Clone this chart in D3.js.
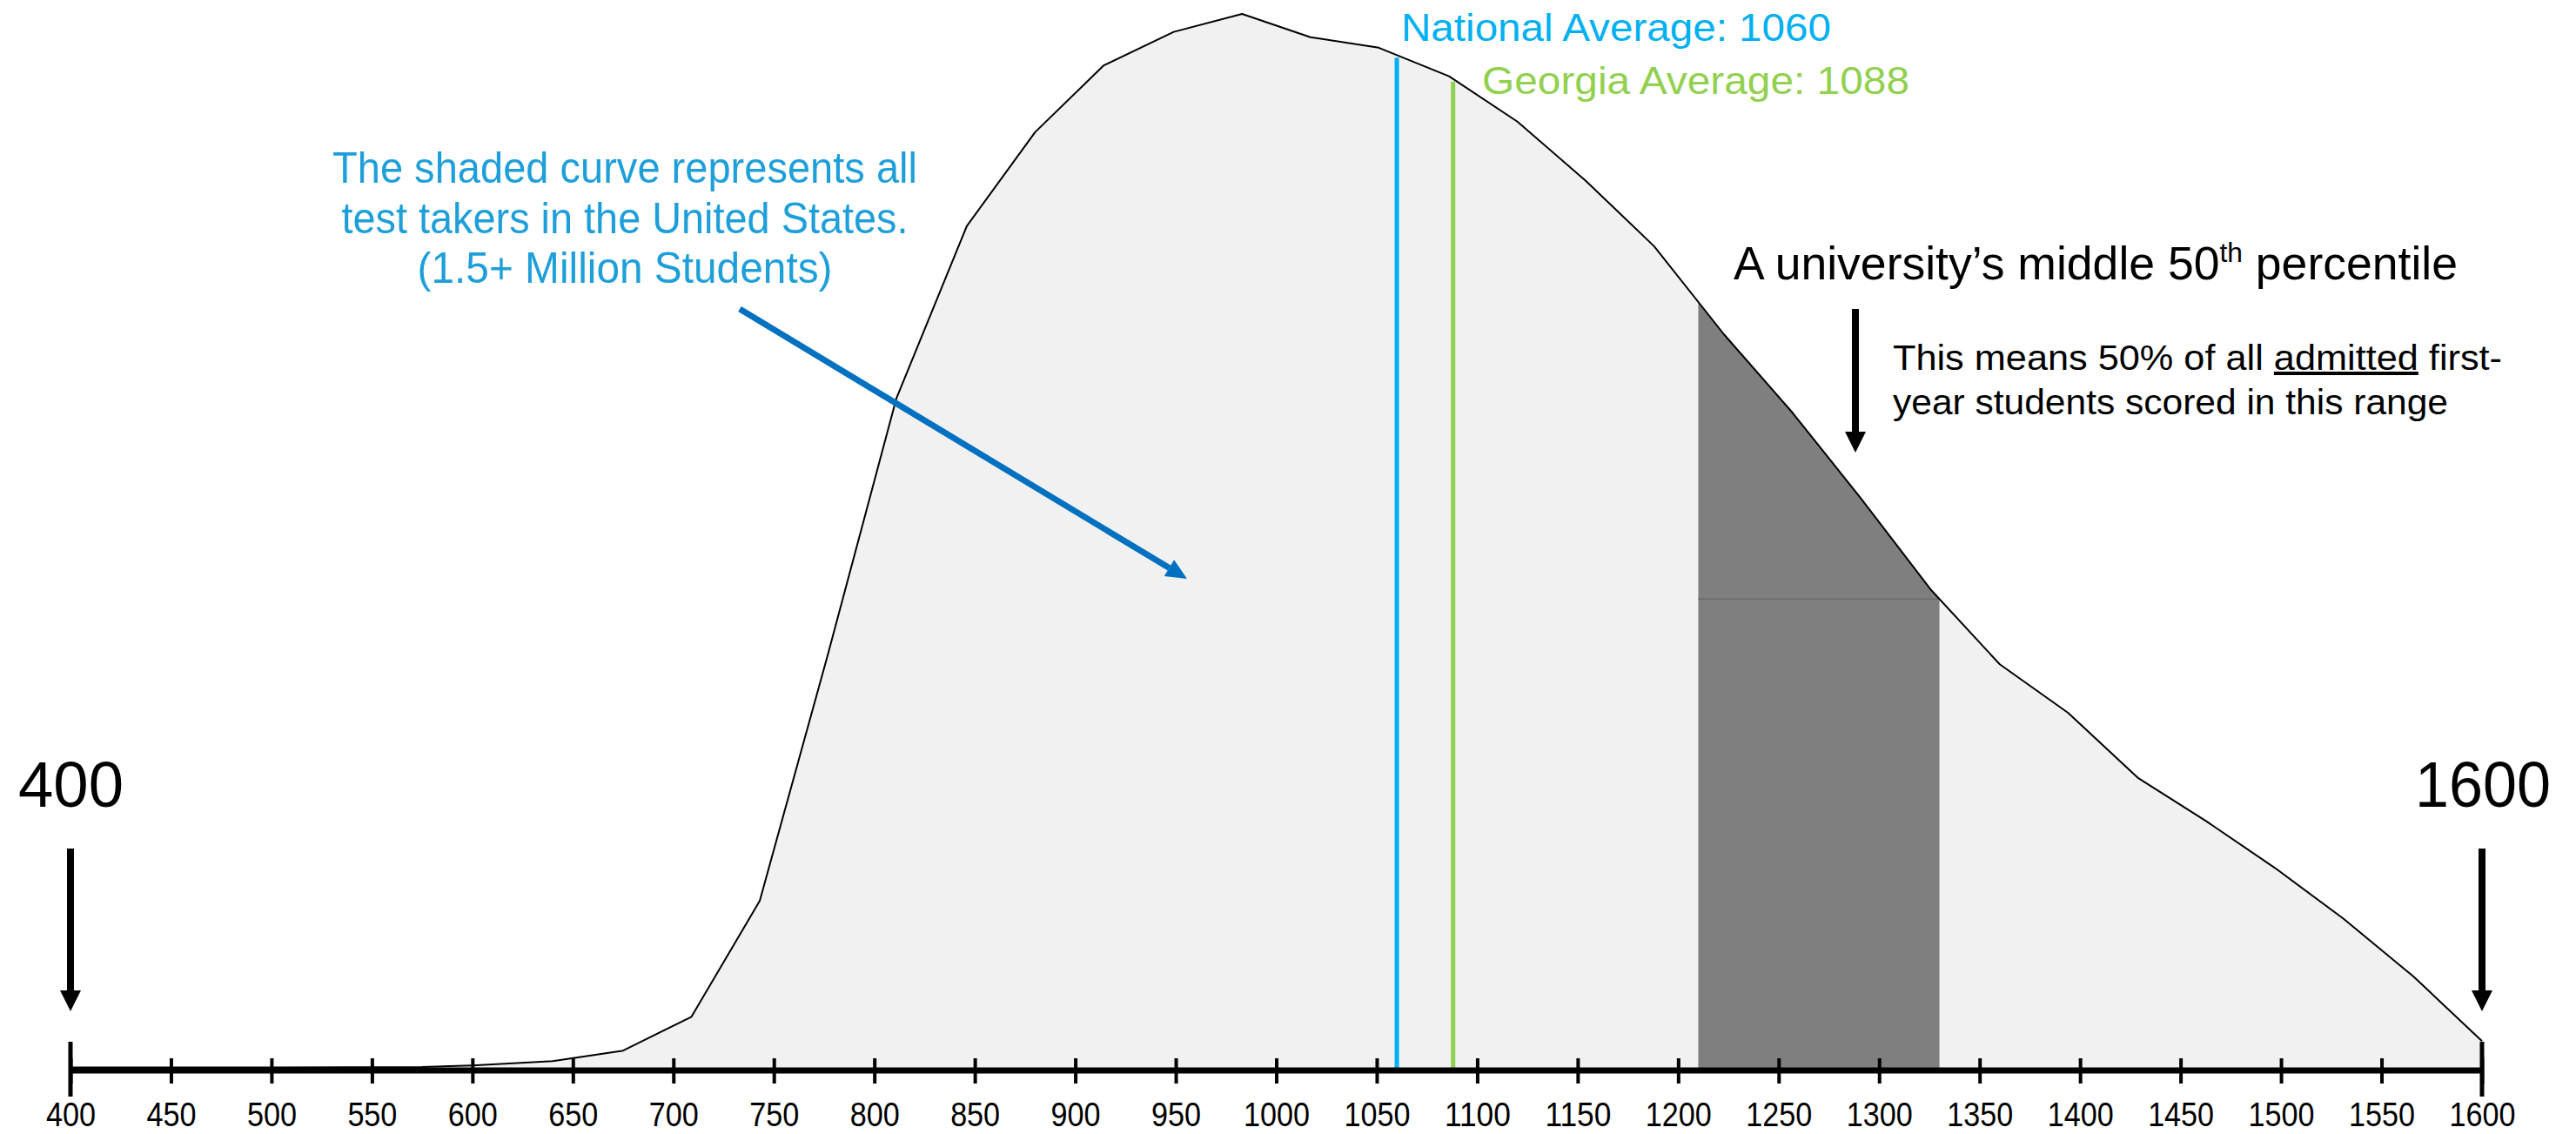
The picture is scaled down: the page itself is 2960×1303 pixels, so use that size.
<!DOCTYPE html>
<html><head><meta charset="utf-8">
<script src="https://cdn.jsdelivr.net/npm/d3@7"></script>
<style>html,body{margin:0;padding:0;background:#fff;} svg{display:block}</style>
</head><body>
<svg id="chart" width="2960" height="1303"></svg>
<script>
// ---- data ----
const scores = [400, 500, 575, 600, 640, 675, 709, 743, 777, 811, 846, 880, 914, 949, 983, 1017, 1051, 1086, 1120, 1154, 1188, 1223, 1257, 1291, 1326, 1360, 1394, 1429, 1463, 1497, 1531, 1566, 1600];
const frequency = [0.2, 0.2, 0.25, 0.4, 0.8, 1.8, 5.0, 16, 39.4, 63.6, 79.9, 88.8, 95.1, 98.3, 100, 97.8, 96.8, 94.1, 89.8, 84.2, 78.0, 69.6, 62.2, 54.1, 45.4, 38.4, 33.8, 27.6, 23.5, 19.1, 14.3, 8.8, 2.7];
const tickValues = [400, 450, 500, 550, 600, 650, 700, 750, 800, 850, 900, 950, 1000, 1050, 1100, 1150, 1200, 1250, 1300, 1350, 1400, 1450, 1500, 1550, 1600];
const averageNames = ["National Average", "Georgia Average"];
const averageValues = [1060, 1088];
const middle50 = [1210, 1330];
const endValues = [400, 1600];
const noteLines = ["The shaded curve represents all", "test takers in the United States.", "(1.5+ Million Students)"];

const data = scores.map((s, i) => ({s, v: frequency[i]}));
const svg = d3.select("#chart");
const x = d3.scaleLinear().domain([400, 1600]).range([81, 2852]);
const y = d3.scaleLinear().domain([0, 100]).range([1229, 16]);
const narrow = "'Liberation Sans Narrow','Arial Narrow','Liberation Sans',Arial,sans-serif";
const regular = "'Liberation Sans',Arial,Helvetica,sans-serif";

function valueAt(s) {
  const i = d3.bisector(d => d.s).right(data, s);
  if (i <= 0) return data[0].v;
  if (i >= data.length) return data[data.length - 1].v;
  const a = data[i - 1], b = data[i];
  return a.v + (b.v - a.v) * (s - a.s) / (b.s - a.s);
}

const area = d3.area().x(d => x(d.s)).y0(y(0)).y1(d => y(d.v));
const line = d3.line().x(d => x(d.s)).y(d => y(d.v));

// light distribution
svg.append("path").datum(data).attr("d", area).attr("fill", "#f1f1f1");

// middle 50 dark region
svg.append("clipPath").attr("id", "mid").append("rect")
  .attr("x", x(middle50[0])).attr("y", 0)
  .attr("width", x(middle50[1]) - x(middle50[0])).attr("height", 1303);
svg.append("path").datum(data).attr("d", area).attr("fill", "#7f7f7f").attr("clip-path", "url(#mid)");
svg.append("line")
  .attr("x1", x(middle50[0])).attr("x2", x(middle50[1]))
  .attr("y1", y(valueAt(middle50[1]))).attr("y2", y(valueAt(middle50[1])))
  .attr("stroke", "#6a6a6a").attr("stroke-width", 1.5);

// curve outline
svg.append("path").datum(data).attr("d", line)
  .attr("fill", "none").attr("stroke", "#000").attr("stroke-width", 2).attr("stroke-linejoin", "round");

// average lines
const avgColors = ["#00b0f0", "#92d050"];
averageValues.forEach((v, i) => {
  svg.append("line")
    .attr("x1", x(v)).attr("x2", x(v))
    .attr("y1", y(0)).attr("y2", y(valueAt(v)) + 3)
    .attr("stroke", avgColors[i]).attr("stroke-width", 5);
});
const avgLabelPos = [{x: 1610, y: 47, w: 494}, {x: 1703, y: 108, w: 491}];
averageNames.forEach((n, i) => {
  svg.append("text").attr("x", avgLabelPos[i].x).attr("y", avgLabelPos[i].y)
    .attr("font-family", narrow).attr("font-size", 45).attr("fill", avgColors[i])
    .attr("textLength", avgLabelPos[i].w).attr("lengthAdjust", "spacingAndGlyphs")
    .text(n + ": " + averageValues[i]);
});

// axis
const axisY = 1230;
const axis = d3.axisBottom(x).tickValues(tickValues).tickSize(29).tickFormat(d3.format("d"));
const gAxis = svg.append("g").attr("transform", `translate(0,${axisY - 14})`).call(axis);
gAxis.select(".domain").remove();
gAxis.selectAll(".tick line").attr("stroke", "#000").attr("stroke-width", 4);
gAxis.selectAll(".tick text")
  .attr("y", 1294 - (axisY - 14)).attr("dy", 0)
  .attr("font-family", narrow).attr("font-size", 38).attr("fill", "#000")
  .attr("textLength", d => String(d).length * 19).attr("lengthAdjust", "spacingAndGlyphs");
svg.append("line").attr("x1", x(400) - 2).attr("x2", x(1600) + 2)
  .attr("y1", axisY).attr("y2", axisY).attr("stroke", "#000").attr("stroke-width", 7);
endValues.forEach(v => {
  svg.append("line").attr("x1", x(v)).attr("x2", x(v)).attr("y1", 1197).attr("y2", 1260)
    .attr("stroke", "#000").attr("stroke-width", 5);
});

// arrows helper
function downArrow(cx, y1, y2, color) {
  svg.append("line").attr("x1", cx).attr("x2", cx).attr("y1", y1).attr("y2", y2 - 20)
    .attr("stroke", color).attr("stroke-width", 8);
  svg.append("path").attr("d", `M${cx - 12},${y2 - 24} L${cx + 12},${y2 - 24} L${cx},${y2} Z`).attr("fill", color);
}

// end labels
const endLabelPos = [{x: 21, w: 121}, {x: 2775, w: 156}];
endValues.forEach((v, i) => {
  svg.append("text").attr("x", endLabelPos[i].x).attr("y", 927)
    .attr("font-family", regular).attr("font-size", 75).attr("fill", "#000")
    .attr("textLength", endLabelPos[i].w).attr("lengthAdjust", "spacingAndGlyphs")
    .text(String(v));
  downArrow(x(v), 975, 1162, "#000");
});

// blue note
const noteBase = [210, 268, 325], noteW = [672, 651, 477];
noteLines.forEach((t, i) => {
  svg.append("text").attr("x", 718).attr("y", noteBase[i]).attr("text-anchor", "middle")
    .attr("font-family", narrow).attr("font-size", 50).attr("fill", "#1f9fda")
    .attr("textLength", noteW[i]).attr("lengthAdjust", "spacingAndGlyphs").text(t);
});
// blue arrow
(function() {
  const x1 = 850, y1 = 355, x2 = 1364, y2 = 665;
  const ang = Math.atan2(y2 - y1, x2 - x1), L = 24, W = 11;
  const bx = x2 - L * Math.cos(ang), by = y2 - L * Math.sin(ang);
  svg.append("line").attr("x1", x1).attr("y1", y1).attr("x2", bx).attr("y2", by)
    .attr("stroke", "#0070c0").attr("stroke-width", 7);
  const px = -Math.sin(ang) * W, py = Math.cos(ang) * W;
  svg.append("path").attr("d", `M${bx + px},${by + py} L${bx - px},${by - py} L${x2},${y2} Z`).attr("fill", "#0070c0");
})();

// university annotation
const uni = svg.append("text").attr("x", 1992).attr("y", 321)
  .attr("font-family", narrow).attr("font-size", 54).attr("fill", "#000")
  .attr("textLength", 832).attr("lengthAdjust", "spacingAndGlyphs");
uni.append("tspan").text("A university\u2019s middle 50");
uni.append("tspan").attr("font-size", 32).attr("dy", -20).text("th");
uni.append("tspan").attr("dy", 20).text(" percentile");
downArrow(2132, 355, 520, "#000");

const n1 = svg.append("text").attr("x", 2175).attr("y", 425)
  .attr("font-family", narrow).attr("font-size", 40).attr("fill", "#000")
  .attr("textLength", 700).attr("lengthAdjust", "spacingAndGlyphs");
n1.append("tspan").text("This means 50% of all ");
n1.append("tspan").attr("text-decoration", "underline").text("admitted");
n1.append("tspan").text(" first-");
svg.append("text").attr("x", 2175).attr("y", 476)
  .attr("font-family", narrow).attr("font-size", 40).attr("fill", "#000")
  .attr("textLength", 638).attr("lengthAdjust", "spacingAndGlyphs")
  .text("year students scored in this range");
</script>
</body></html>
